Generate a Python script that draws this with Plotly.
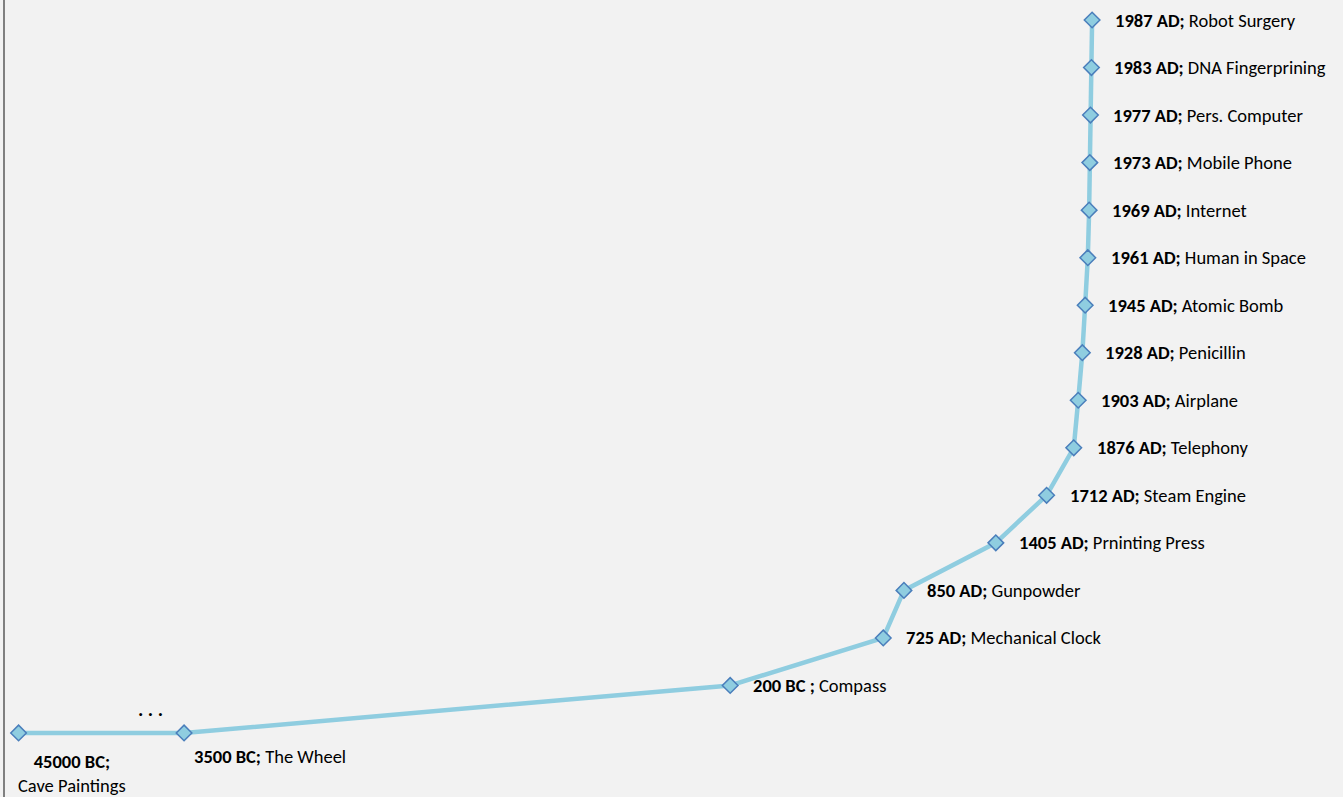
import plotly.graph_objects as go

years = [-45000, -3500, -200, 725, 850, 1405, 1712, 1876, 1903, 1928, 1945,
         1961, 1969, 1973, 1977, 1983, 1987]
levels = [0, 0, 1, 2, 3, 4, 5, 6, 7, 8, 9, 10, 11, 12, 13, 14, 15]
year_labels = ["45000 BC;", "3500 BC;", "200 BC ;", "725 AD;", "850 AD;",
               "1405 AD;", "1712 AD;", "1876 AD;", "1903 AD;", "1928 AD;",
               "1945 AD;", "1961 AD;", "1969 AD;", "1973 AD;", "1977 AD;",
               "1983 AD;", "1987 AD;"]
names = ["Cave Paintings", "The Wheel", "Compass", "Mechanical Clock",
         "Gunpowder", "Prninting Press", "Steam Engine", "Telephony",
         "Airplane", "Penicillin", "Atomic Bomb", "Human in Space", "Internet",
         "Mobile Phone", "Pers. Computer", "DNA Fingerprining", "Robot Surgery"]

# broken axis: everything before 3500 BC is drawn compressed just before it
BREAK_AT = -3500
BREAK_GAP = 1000
xs = [y if y >= BREAK_AT else BREAK_AT - BREAK_GAP for y in years]

FONT = "Carlito, Calibri, Lato, sans-serif"
FS = 18.5

fig = go.Figure()
fig.add_trace(go.Scatter(
    x=xs, y=levels, mode="lines+markers",
    line=dict(color="#8fcde0", width=4.5),
    marker=dict(symbol="diamond", size=12, color="#8fcde0",
                line=dict(color="#4a7ebb", width=1.5)),
    hoverinfo="skip", showlegend=False,
))

annotations = []
for i, (x, lv, yl, nm) in enumerate(zip(xs, levels, year_labels, names)):
    if i == 0:
        annotations.append(dict(
            x=x, y=lv, text=f"<b>{yl}</b><br>{nm}", showarrow=False,
            xanchor="center", yanchor="top", align="center",
            xshift=53, yshift=-15, font=dict(family=FONT, size=FS, color="#000")))
    elif i == 1:
        annotations.append(dict(
            x=x, y=lv, text=f"<b>{yl}</b> {nm}", showarrow=False,
            xanchor="left", yanchor="middle", xshift=8, yshift=-24,
            font=dict(family=FONT, size=FS, color="#000")))
    else:
        annotations.append(dict(
            x=x, y=lv, text=f"<b>{yl}</b> {nm}", showarrow=False,
            xanchor="left", yanchor="middle", xshift=21,
            font=dict(family=FONT, size=FS, color="#000")))

annotations.append(dict(
    x=BREAK_AT - 200, y=0, text="<b>. . .</b>", showarrow=False,
    xanchor="center", yanchor="bottom", yshift=10,
    font=dict(family=FONT, size=20, color="#000")))

fig.update_layout(
    width=1343, height=797,
    margin=dict(l=5, r=0, t=0, b=0),
    paper_bgcolor="#f2f2f2", plot_bgcolor="#f2f2f2",
    annotations=annotations,
    xaxis=dict(range=[-4582, 3503], showgrid=False, zeroline=False,
               showticklabels=False, showline=False),
    yaxis=dict(range=[-1.347, 15.421], showgrid=False, zeroline=False,
               showticklabels=False, showline=True, linecolor="#808080",
               linewidth=2),
)

fig.write_html("out.html",
               config={"displayModeBar": False},
               post_script="document.body.style.margin='0';"
                           "document.body.style.background='#f2f2f2';")
